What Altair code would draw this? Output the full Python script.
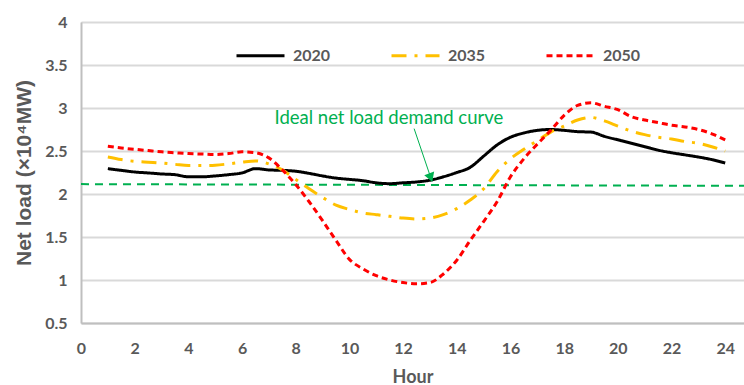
import altair as alt
import pandas as pd

# Half-hourly net load, in units of 10^4 MW
hours = [1 + 0.5 * i for i in range(47)]

load_2020 = [2.295, 2.275, 2.256, 2.245, 2.233, 2.225, 2.20, 2.20, 2.21, 2.225,
             2.245, 2.295, 2.28, 2.275, 2.265, 2.24, 2.21, 2.185, 2.17, 2.155,
             2.13, 2.12, 2.13, 2.14, 2.16, 2.20, 2.25, 2.31, 2.44, 2.57,
             2.66, 2.71, 2.74, 2.75, 2.74, 2.725, 2.72, 2.67, 2.63, 2.59,
             2.55, 2.51, 2.48, 2.455, 2.43, 2.40, 2.36]

load_2035 = [2.43, 2.40, 2.38, 2.37, 2.36, 2.345, 2.33, 2.33, 2.335, 2.35,
             2.37, 2.385, 2.35, 2.28, 2.17, 2.06, 1.96, 1.87, 1.82, 1.78,
             1.76, 1.74, 1.72, 1.71, 1.72, 1.76, 1.83, 1.93, 2.06, 2.26,
             2.41, 2.52, 2.62, 2.72, 2.79, 2.86, 2.89, 2.85, 2.79, 2.73,
             2.69, 2.66, 2.64, 2.61, 2.59, 2.55, 2.50]

load_2050 = [2.555, 2.535, 2.52, 2.505, 2.49, 2.48, 2.47, 2.465, 2.46, 2.47,
             2.49, 2.48, 2.42, 2.28, 2.11, 1.91, 1.69, 1.46, 1.24, 1.13,
             1.05, 1.00, 0.97, 0.955, 0.97, 1.07, 1.23, 1.46, 1.68, 1.91,
             2.20, 2.41, 2.58, 2.74, 2.915, 3.03, 3.06, 3.02, 2.98, 2.90,
             2.86, 2.83, 2.80, 2.78, 2.75, 2.70, 2.63]

years = ["2020", "2035", "2050"]
series = [load_2020, load_2035, load_2050]
colors = ["#000000", "#ffc000", "#ff0000"]
dashes = [[1, 0], [15, 8, 3, 8], [6, 4]]

# Ideal (flat) net load demand line
ideal_hours = [0, 24.7]
ideal_load = [2.115, 2.095]

# Annotation pieces
note_text = ["Ideal net load demand curve"]
note_hour = [11.47]
note_load = [2.88]
arrow_start = [12.41, 2.76]
arrow_head = [13.03, 2.19]

x_ticks = list(range(0, 25, 2))
y_ticks = [0.5, 1, 1.5, 2, 2.5, 3, 3.5, 4]

rows = []
for year, vals in zip(years, series):
    for h, v in zip(hours, vals):
        rows.append({"Hour": h, "Load": v, "Year": year})
df = pd.DataFrame(rows)

ideal_df = pd.DataFrame({"Hour": ideal_hours, "Load": ideal_load})
note_df = pd.DataFrame({"Hour": note_hour, "Load": note_load, "Text": note_text})
arrow_df = pd.DataFrame({"Hour": [arrow_start[0]], "Load": [arrow_start[1]],
                         "Hour2": [arrow_head[0]], "Load2": [arrow_head[1]]})
head_df = pd.DataFrame({"Hour": [arrow_head[0]], "Load": [arrow_head[1]]})

tick_font = "Lato"
gray = "#595959"

x_scale = alt.Scale(domain=[0, 24.7], nice=False, zero=False)
y_scale = alt.Scale(domain=[0.5, 4], nice=False, zero=False)

x_axis = alt.Axis(values=x_ticks, title="Hour", grid=False, ticks=False,
                  domainColor="#bfbfbf", domainWidth=2, labelFlush=False,
                  labelFont=tick_font, labelFontSize=16, labelFontWeight="bold",
                  labelColor=gray, labelPadding=17,
                  titleFont=tick_font, titleFontSize=18, titleFontWeight="bold",
                  titleColor=gray, titlePadding=12)
y_axis = alt.Axis(values=y_ticks, format=".1~f", title="Net load (×10⁴MW)", grid=True,
                  gridColor="#d9d9d9", gridWidth=2, ticks=False,
                  domainColor="#bfbfbf", domainWidth=2, labelFlush=False,
                  labelFont=tick_font, labelFontSize=16, labelFontWeight="bold",
                  labelColor=gray, labelPadding=14,
                  titleFont="Liberation Sans", titleFontSize=21, titleFontWeight="bold",
                  titleColor=gray, titlePadding=10)

ideal = alt.Chart(ideal_df).mark_line(color="#00b050", strokeWidth=2, strokeDash=[8, 6]).encode(
    x=alt.X("Hour:Q", scale=x_scale, axis=x_axis),
    y=alt.Y("Load:Q", scale=y_scale, axis=y_axis),
)

lines = alt.Chart(df).mark_line(interpolate="monotone", strokeWidth=3).encode(
    x=alt.X("Hour:Q", scale=x_scale),
    y=alt.Y("Load:Q", scale=y_scale),
    color=alt.Color("Year:N", scale=alt.Scale(domain=years, range=colors),
                    legend=alt.Legend(title=None, orient="none", direction="horizontal",
                                      legendX=154, legendY=8,
                                      symbolType="stroke", symbolSize=2304,
                                      symbolStrokeWidth=3, columnPadding=54,
                                      labelFont=tick_font, labelFontSize=16,
                                      labelFontWeight="bold", labelColor=gray,
                                      labelOffset=7)),
    strokeDash=alt.StrokeDash("Year:N", scale=alt.Scale(domain=years, range=dashes),
                              legend=None),
)

arrow = alt.Chart(arrow_df).mark_rule(color="#00b050", strokeWidth=1).encode(
    x="Hour:Q", y="Load:Q", x2="Hour2:Q", y2="Load2:Q"
)
head = alt.Chart(head_df).mark_point(shape="triangle-up", filled=True, color="#00b050",
                                     size=110, angle=160, opacity=1).encode(
    x="Hour:Q", y="Load:Q"
)
note = alt.Chart(note_df).mark_text(font=tick_font, fontSize=18.5, color="#00b050",
                                    align="center", baseline="middle").encode(
    x="Hour:Q", y="Load:Q", text="Text:N"
)

chart = alt.layer(ideal, lines, arrow, head, note).properties(
    width=663, height=301,
    autosize=alt.AutoSizeParams(type="none"),
    padding={"left": 81, "top": 22, "right": 0, "bottom": 62},
).configure_view(stroke=None).configure(background="white")

chart.save("out.html", embed_options={"renderer": "svg", "actions": False})
